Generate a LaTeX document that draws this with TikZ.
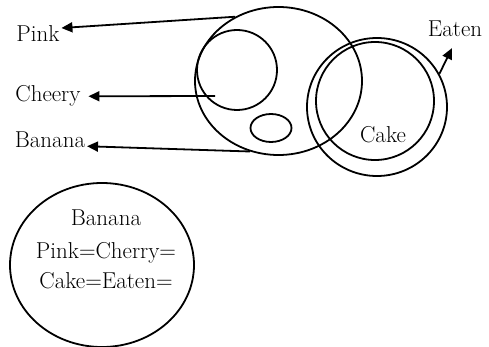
\documentclass[tikz,border=0pt]{standalone}
\usetikzlibrary{shapes.geometric,arrows.meta}
\begin{document}
\begin{tikzpicture}[x=1pt, y=-1pt, line width=1.8pt,
        set/.style = {draw, ellipse, inner sep=0pt},
        word/.style = {font=\fontsize{23}{28}\selectfont, anchor=base, inner sep=1pt},
        arr/.style = {-{Triangle[length=11pt,width=10pt]}}]
        \useasboundingbox (0,0) rectangle (489,347);

        % the sets
        \node[set, minimum width=167, minimum height=148] (pinkset) at (278.5,81) {};
        \node[set, minimum width=80, minimum height=80] (cheeryset) at (237,70) {};
        \node[set, minimum width=41, minimum height=28] (bananaset) at (271,128) {};
        \node[set, minimum width=140, minimum height=138] (eatenset) at (377,107) {};
        \node[set, minimum width=118, minimum height=118] (cakeset) at (375,101) {};
        \node[set, minimum width=184, minimum height=164] (summary) at (102,265) {};

        % labels
        \node[word] (pink) at (38,42) {Pink};
        \node[word] (cheery) at (48,102) {Cheery};
        \node[word] (banana) at (50,148) {Banana};
        \node[word] (eaten) at (455,37) {Eaten};
        \node[word] (cake) at (383,143) {Cake};
        \node[word] (line1) at (106,225) {Banana};
        \node[word] (line2) at (106,258) {Pink=Cherry=};
        \node[word] (line3) at (106,288) {Cake=Eaten=};

        \coordinate (cheerystart) at (215,96);

        \draw[arr] (pinkset.124) -- ([yshift=6pt]pink.east);
        \draw[arr] (cheerystart) -- ([xshift=6pt]cheery.east);
        \draw[arr] (pinkset.248) -- ([yshift=-6pt]banana.east);
        \draw[arr] (eatenset.28) -- ([xshift=-3pt,yshift=-9pt]eaten.south);
\end{tikzpicture}
\end{document}
